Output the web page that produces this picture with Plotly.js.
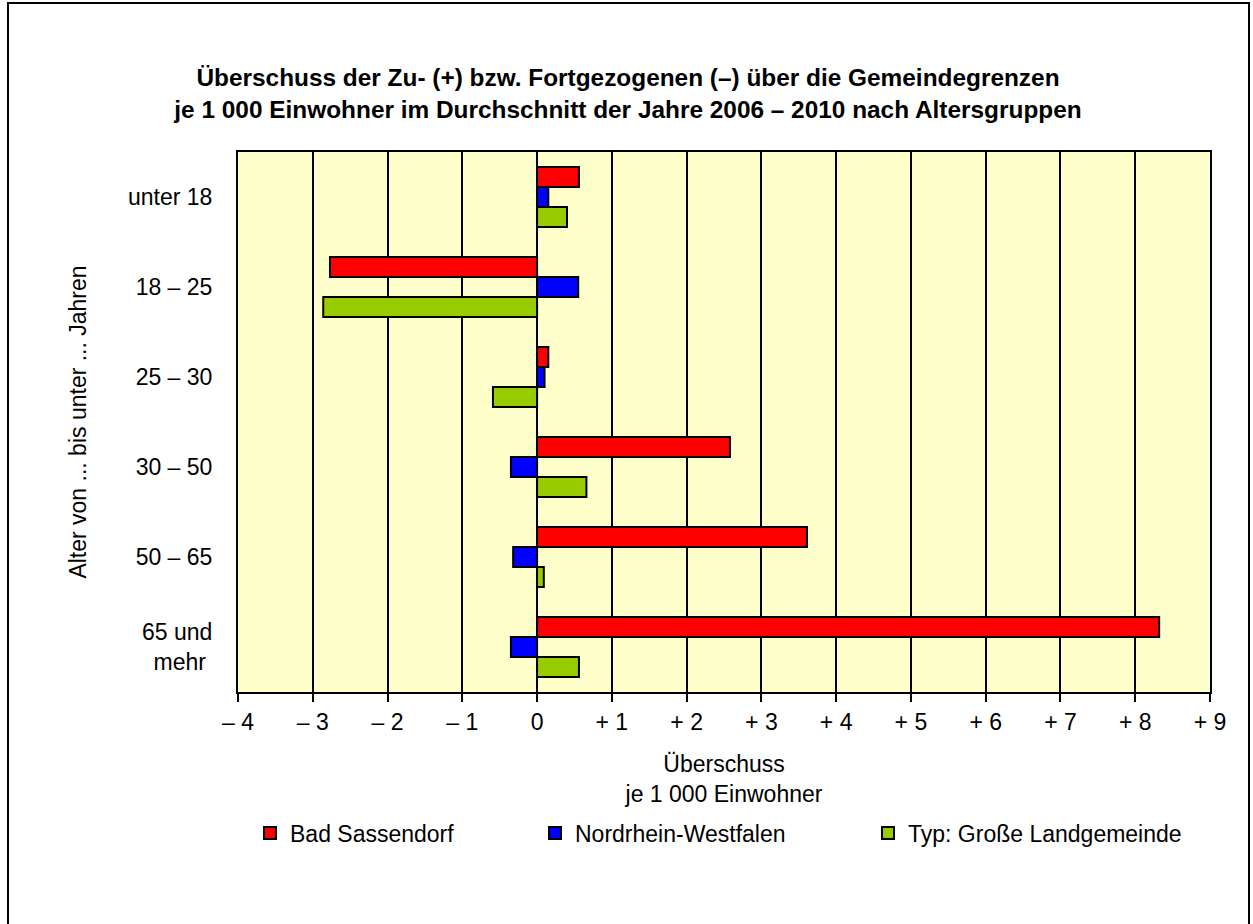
<!DOCTYPE html>
<html>
<head>
<meta charset="utf-8">
<script src="https://cdn.plot.ly/plotly-3.0.1.min.js"></script>
<style>
html,body{margin:0;padding:0;background:#fff;}
#chart{width:1253px;height:924px;}
</style>
</head>
<body>
<div id="chart"></div>
<script>
const categories = ["unter 18", "18 – 25", "25 – 30", "30 – 50", "50 – 65", "65 und<br>mehr\u00a0"];
const badSassendorf = [0.56, -2.77, 0.15, 2.58, 3.61, 8.32];
const nrw = [0.15, 0.55, 0.10, -0.35, -0.32, -0.35];
const grosseLandgemeinde = [0.40, -2.86, -0.59, 0.66, 0.09, 0.56];
const seriesNames = ["Bad Sassendorf", "Nordrhein-Westfalen", "Typ: Große Landgemeinde"];
const seriesColors = ["#FF0000", "#0000FF", "#99CC00"];
const xTickVals = [-4, -3, -2, -1, 0, 1, 2, 3, 4, 5, 6, 7, 8, 9];
const xTickText = ["– 4", "– 3", "– 2", "– 1", "0", "+ 1", "+ 2", "+ 3", "+ 4", "+ 5", "+ 6", "+ 7", "+ 8", "+ 9"];

const FONT = "Liberation Sans, Arial, sans-serif";
const W = 1253, H = 924;
const L = 238, R = 43, T = 152, B = 232;
const PW = W - L - R, PH = H - T - B;

const seriesValues = [badSassendorf, nrw, grosseLandgemeinde];
const legendIds = ["legend", "legend2", "legend3"];
const traces = seriesValues.map((vals, i) => ({
  type: "bar",
  orientation: "h",
  name: seriesNames[i],
  y: categories,
  x: vals,
  marker: {color: seriesColors[i], line: {color: "#000", width: 2}},
  legend: legendIds[i],
  showlegend: true,
  hoverinfo: "x+name"
}));

function legendAt(xpx) {
  return {
    xref: "container", yref: "container",
    x: xpx / W, y: 1 - 833 / H,
    xanchor: "left", yanchor: "middle",
    orientation: "h",
    bgcolor: "rgba(0,0,0,0)",
    borderwidth: 0,
    font: {family: FONT, size: 23, color: "#000"}
  };
}

const px = v => (v - L) / PW;
const py = v => (H - B - v) / PH;

const layout = {
  width: W, height: H,
  margin: {l: L, r: R, t: T, b: B, pad: 0},
  paper_bgcolor: "#fff",
  plot_bgcolor: "#FFFFCC",
  font: {family: FONT, size: 23, color: "#000"},
  showlegend: true,
  title: {
    text: "<b>Überschuss der Zu- (+) bzw. Fortgezogenen (–) über die Gemeindegrenzen<br>je 1 000 Einwohner im Durchschnitt der Jahre 2006 – 2010 nach Altersgruppen</b>",
    xref: "container", yref: "container",
    x: 628 / W, y: 1 - 86 / H, xanchor: "center", yanchor: "middle",
    font: {family: FONT, size: 24.4, color: "#000"}
  },
  barmode: "group",
  bargap: 1/3,
  bargroupgap: 0,
  xaxis: {
    range: [-4, 9],
    tickvals: xTickVals,
    ticktext: xTickText,
    ticks: "outside", ticklen: 8, tickwidth: 2, tickcolor: "#000",
    showline: true, linecolor: "#000", linewidth: 2, mirror: true,
    showgrid: true, gridcolor: "#000", gridwidth: 2,
    zeroline: true, zerolinecolor: "#000", zerolinewidth: 2,
    tickfont: {family: FONT, size: 23, color: "#000"},
    title: {text: "Überschuss<br>je 1 000 Einwohner", standoff: 22,
            font: {family: FONT, size: 23, color: "#000"}},
    fixedrange: true
  },
  yaxis: {
    type: "category",
    autorange: "reversed",
    showline: true, linecolor: "#000", linewidth: 2, mirror: true,
    showgrid: false,
    ticks: "",
    ticklabelstandoff: 19,
    tickfont: {family: FONT, size: 23, color: "#000"},
    title: {text: "Alter von ... bis unter ... Jahren", standoff: 35,
            font: {family: FONT, size: 23, color: "#000"}},
    fixedrange: true
  },
  legend: legendAt(250),
  legend2: legendAt(535),
  legend3: legendAt(868),
  shapes: [{
    type: "rect", xref: "paper", yref: "paper",
    x0: px(8), x1: px(1249), y0: py(940), y1: py(3),
    line: {color: "#000", width: 2}, fillcolor: "rgba(0,0,0,0)", layer: "above"
  }]
};

Plotly.newPlot("chart", traces, layout, {displayModeBar: false, staticPlot: true});
</script>
</body>
</html>
